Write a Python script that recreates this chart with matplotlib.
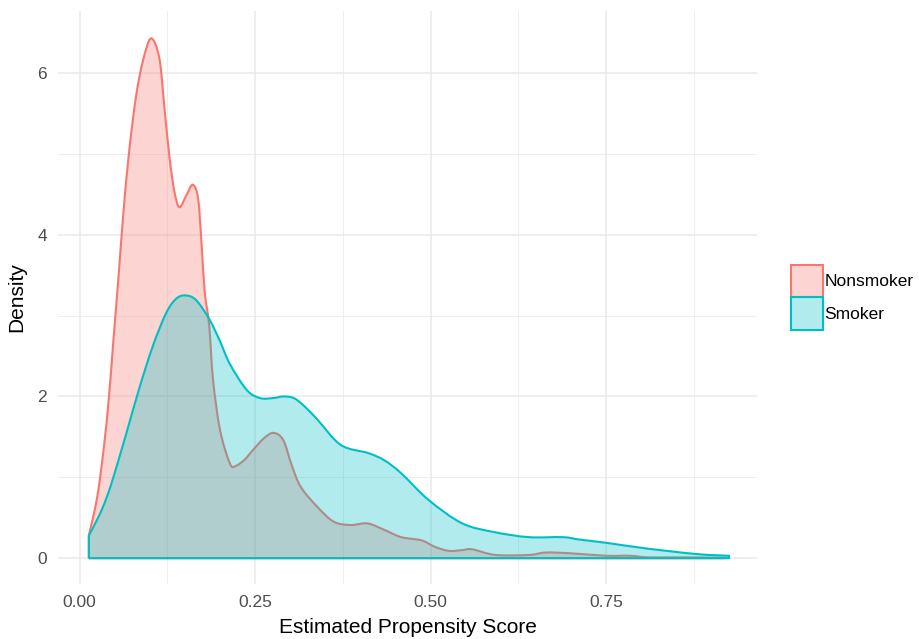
import matplotlib
matplotlib.use("Agg")
import matplotlib.pyplot as plt
from matplotlib.patches import Patch, PathPatch
from matplotlib.path import Path
import numpy as np

plt.rcParams['font.family'] = ['Liberation Sans', 'DejaVu Sans']

groups = ["Nonsmoker", "Smoker"]
colors = ["#F8766D", "#00BFC4"]

non_x = [0.013, 0.025, 0.0345, 0.0417, 0.048, 0.055, 0.062, 0.070, 0.080, 0.090, 0.1016,
         0.1135, 0.1207, 0.128, 0.135, 0.142, 0.152, 0.161, 0.1686, 0.1734, 0.178, 0.1844, 0.190,
         0.200, 0.214, 0.222, 0.235, 0.247, 0.262, 0.276, 0.290, 0.302, 0.315, 0.339, 0.362, 0.386,
         0.410, 0.434, 0.458, 0.487, 0.506, 0.526, 0.545, 0.559, 0.592, 0.640, 0.664, 0.700, 0.750,
         0.784, 0.810, 0.860, 0.920]
non_y = [0.28, 0.76, 1.38, 2.00, 2.70, 3.45, 4.25, 5.00, 5.70, 6.15, 6.43,
         6.18, 5.57, 4.95, 4.53, 4.34, 4.49, 4.62, 4.45, 3.91, 3.30, 2.88, 2.20,
         1.58, 1.17, 1.14, 1.22, 1.34, 1.48, 1.55, 1.46, 1.15, 0.88, 0.63, 0.45, 0.41,
         0.43, 0.35, 0.26, 0.22, 0.14, 0.09, 0.10, 0.11, 0.04, 0.04, 0.07, 0.06, 0.03,
         0.03, 0.01, 0.01, 0.005]

smk_x = [0.013, 0.0273, 0.037, 0.0465, 0.0656, 0.0848, 0.104, 0.123, 0.1375, 0.151, 0.166, 0.185, 0.200,
         0.214, 0.238, 0.257, 0.275, 0.290, 0.305, 0.320, 0.339, 0.372, 0.411, 0.434, 0.458, 0.497,
         0.545, 0.592, 0.640, 0.688, 0.712, 0.750, 0.807, 0.880, 0.925]
smk_y = [0.28, 0.52, 0.72, 0.96, 1.52, 2.10, 2.62, 3.03, 3.21, 3.25, 3.19, 2.95, 2.68,
         2.40, 2.08, 1.98, 1.98, 2.00, 1.98, 1.88, 1.71, 1.40, 1.30, 1.21, 1.05, 0.72,
         0.43, 0.32, 0.26, 0.26, 0.23, 0.19, 0.12, 0.05, 0.03]


def smooth_path(xs, ys, tension=0.5):
    """Closed Bezier path (Catmull-Rom style) through the read points, down to the baseline."""
    pts = np.column_stack([xs, ys])
    n = len(pts)
    verts = [(xs[0], 0.0), tuple(pts[0])]
    codes = [Path.MOVETO, Path.LINETO]
    for i in range(n - 1):
        p0 = pts[i - 1] if i > 0 else pts[i]
        p1 = pts[i]
        p2 = pts[i + 1]
        p3 = pts[i + 2] if i + 2 < n else pts[i + 1]
        c1 = p1 + (p2 - p0) * tension / 3.0
        c2 = p2 - (p3 - p1) * tension / 3.0
        verts += [tuple(c1), tuple(c2), tuple(p2)]
        codes += [Path.CURVE4] * 3
    verts += [(xs[-1], 0.0), (xs[0], 0.0)]
    codes += [Path.LINETO, Path.LINETO]
    return Path(verts, codes)


fig = plt.figure(figsize=(9.2, 6.39), dpi=100)
ax = fig.add_axes([0.063, 0.086, 0.760, 0.897])

z = 2
for xs, ys, c in [(non_x, non_y, colors[0]), (smk_x, smk_y, colors[1])]:
    path = smooth_path(xs, ys)
    ax.add_patch(PathPatch(path, facecolor=matplotlib.colors.to_rgba(c, 0.3), edgecolor="none", zorder=z))
    ax.add_patch(PathPatch(path, facecolor="none", edgecolor=c, lw=1.5, zorder=z + 0.5, joinstyle="round"))
    z += 1

ax.set_xlim(-0.031, 0.965)
ax.set_ylim(-0.32, 6.77)
ax.set_xticks([0.0, 0.25, 0.5, 0.75])
ax.set_xticklabels(["0.00", "0.25", "0.50", "0.75"])
ax.set_yticks([0, 2, 4, 6])
ax.set_xticks([0.125, 0.375, 0.625, 0.875], minor=True)
ax.set_yticks([1, 3, 5], minor=True)
ax.grid(which="major", color="#EBEBEB", lw=1.2, zorder=0)
ax.grid(which="minor", color="#EBEBEB", lw=0.6, zorder=0)
ax.set_axisbelow(True)
for s in ax.spines.values():
    s.set_visible(False)
ax.tick_params(which="both", length=0, labelsize=12.5, labelcolor="#4D4D4D", pad=8)
ax.set_xlabel("Estimated Propensity Score", fontsize=15, labelpad=6)
ax.set_ylabel("Density", fontsize=15, labelpad=8)

handles = [Patch(facecolor=matplotlib.colors.to_rgba(c, 0.3), edgecolor=c, lw=1.5) for c in colors]
fig.legend(handles, groups, loc="center left", bbox_to_anchor=(0.85, 0.535), frameon=False,
           fontsize=12.5, handlelength=1.85, handleheight=2.5, labelspacing=0.0, handletextpad=0.1,
           borderpad=0)

fig.savefig("out.png", dpi=100)
